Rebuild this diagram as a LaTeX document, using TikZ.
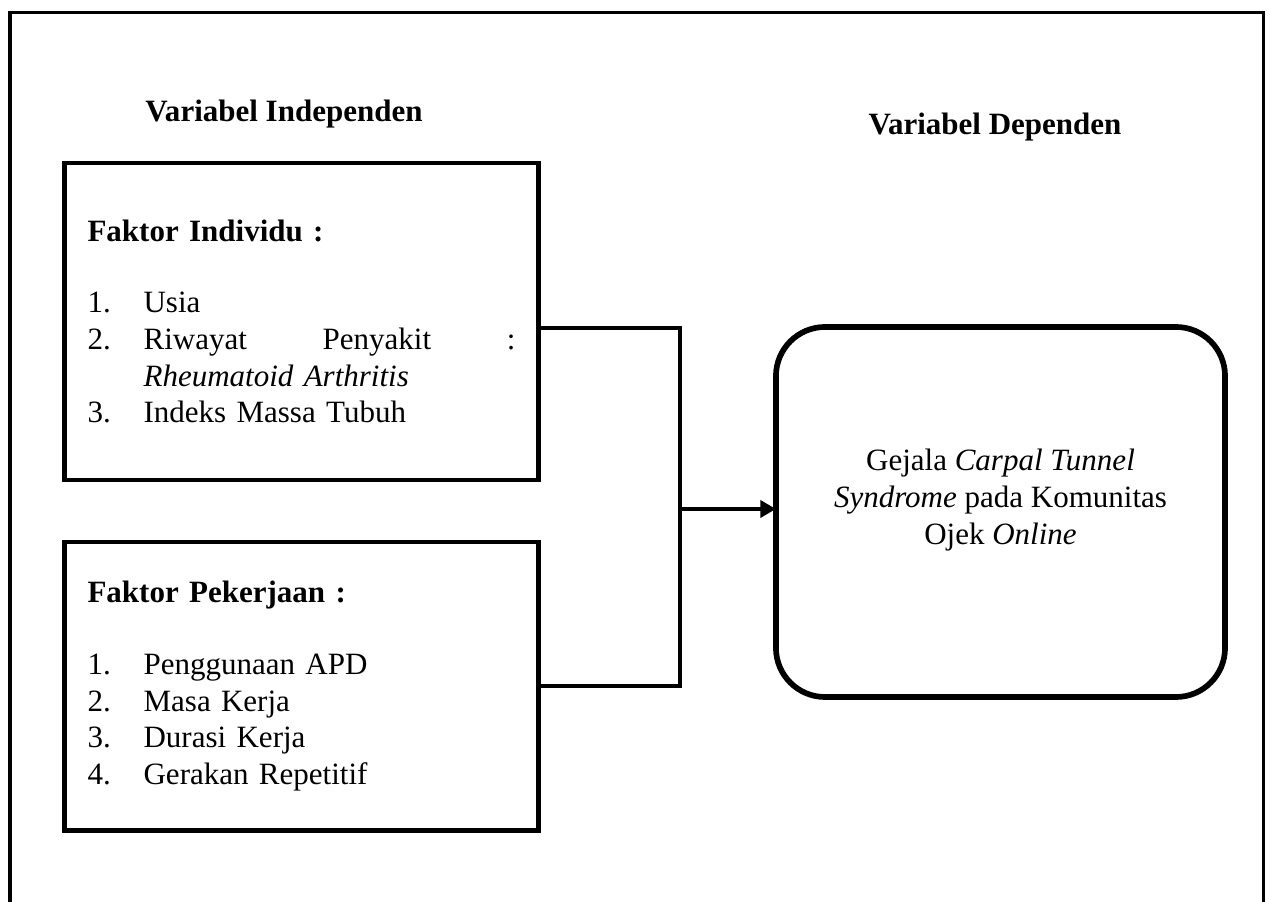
\documentclass[tikz,border=0pt]{standalone}
\usepackage{fontspec}
\setmainfont{Liberation Serif}
\usepackage{tikz}
\usetikzlibrary{arrows.meta, positioning}

\begin{document}
\begin{tikzpicture}[
  x=0.387pt, y=0.387pt,
  every node/.style={font=\fontsize{12pt}{14.2pt}\selectfont},
  varbox/.style={rectangle, draw, line width=1.9pt, outer sep=0pt, minimum width=183.4pt, inner xsep=8.7pt, text width=165.6pt, align=left},
  depbox/.style={rectangle, rounded corners=19pt, draw, line width=2.2pt, outer sep=0pt, minimum width=173.8pt, minimum height=143.2pt},
  heading/.style={font=\fontsize{12pt}{14.2pt}\selectfont\bfseries, anchor=base},
  link/.style={line width=1.3pt},
  arrow/.style={-{Triangle[length=6pt, width=6.5pt]}, line width=1.5pt}
]
\useasboundingbox (0,0) rectangle (1270,-902);

% Frame (open at the bottom)
\coordinate (fl) at (10,-902);
\coordinate (fr) at (1263.5,-902);
\draw[line width=1.5pt] (fl) |- (1263.5,-12.5) -- (fr);

% Headings
\node[heading] (hind) at (284,-122) {Variabel Independen};
\node[heading] (hdep) at (995,-135) {Variabel Dependen};

% Nodes
\node[varbox, minimum height=122.7pt] (ind) at (301.5,-321.5) {
  \textbf{Faktor Individu :}\\[13.6pt]
  \makebox[21.7pt][l]{1.}Usia\\
  \makebox[21.7pt][l]{2.}Riwayat\hfill Penyakit\hfill :\\
  \hspace*{21.7pt}\textit{Rheumatoid Arthritis}\\
  \makebox[21.7pt][l]{3.}Indeks Massa Tubuh
};

\node[varbox, minimum height=111.5pt, below=24pt of ind] (job) {
  \textbf{Faktor Pekerjaan :}\\[13.6pt]
  \makebox[21.7pt][l]{1.}Penggunaan APD\\
  \makebox[21.7pt][l]{2.}Masa Kerja\\
  \makebox[21.7pt][l]{3.}Durasi Kerja\\
  \makebox[21.7pt][l]{4.}Gerakan Repetitif
};

\node[depbox] (dep) at (1000.5,-512) {};
\node[align=center, yshift=4.6pt] (deptext) at (dep.center) {
  Gejala \textit{Carpal Tunnel}\\
  \textit{Syndrome} pada Komunitas\\
  Ojek \textit{Online}
};

% Connectors
\coordinate (jn) at (680,-509);
\draw[link] ([yshift=-2.5pt]ind.east) -| (jn) |- (job.east);
\draw[arrow] (jn) -- (jn -| dep.west);

\end{tikzpicture}
\end{document}
